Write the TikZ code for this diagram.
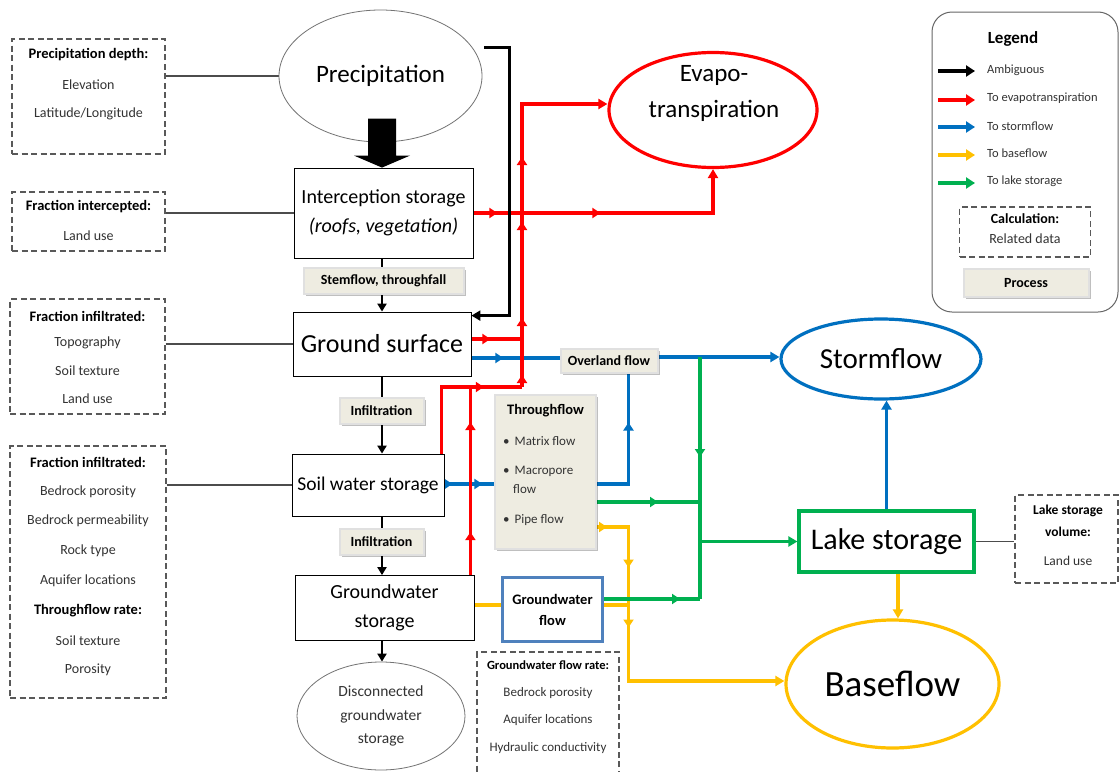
\documentclass[tikz,border=0pt]{standalone}
\usepackage{fontspec}
\setmainfont{Carlito}
\usetikzlibrary{arrows.meta,decorations.markings,shadows,calc,shapes.geometric}
\definecolor{cred}{HTML}{FF0000}
\definecolor{cblue}{HTML}{0070C0}
\definecolor{cyel}{HTML}{FFC000}
\definecolor{cgreen}{HTML}{00B050}
\definecolor{beige}{HTML}{EEECE1}
\definecolor{gwblue}{HTML}{4F81BD}
\definecolor{dgray}{HTML}{595959}
\newcommand\fsz[2]{\fontsize{#1}{#2}\selectfont}
\pgfdeclarelayer{bg}
\pgfsetlayers{bg,main}
\tikzset{
 mainbox/.style={draw=black, line width=0.8pt, fill=white, inner sep=0pt, align=center},
 databox/.style={draw=dgray, line width=1.2pt, dash pattern=on 6pt off 3.5pt, inner sep=0pt},
 dtitle/.style={font=\bfseries\fsz{14.5}{17}, inner sep=0pt},
 dtext/.style={font=\fsz{14}{17}, text=black!80, inner sep=0pt},
 procbox/.style={fill=beige, draw=black!12, line width=2pt, inner sep=0pt, drop shadow={shadow xshift=2pt, shadow yshift=-2pt, opacity=0.25, fill=black}},
 proc/.style={procbox, font=\bfseries\fsz{14}{17}},
 ell/.style={ellipse, draw=black!55, line width=0.8pt, fill=white, inner sep=0pt, align=center},
 conn/.style={draw=black!70, line width=1.1pt},
 flow/.style={line width=3.2pt},
 redflow/.style={flow, draw=cred},
 blueflow/.style={flow, draw=cblue},
 yelflow/.style={flow, draw=cyel},
 greenflow/.style={flow, draw=cgreen},
 tip/.style={-{Triangle[width=10pt,length=9pt]}},
 blk/.style={line width=2.6pt, draw=black, -{Triangle[width=9pt,length=8pt]}},
 am/.style={postaction={decorate, decoration={markings, mark=at position #1 with {\arrow{Triangle[width=10pt,length=8pt]}}}}},
}
\begin{document}
\begin{tikzpicture}[x=1pt,y=-1pt]
\useasboundingbox (0,0) rectangle (1119,771);
\begin{pgfonlayer}{bg}
\fill[white] (0,0) rectangle (1119,771);
\end{pgfonlayer}

% ---------- left data boxes ----------
\node[databox, minimum width=153pt, minimum height=115pt] (pd) at (88.5,96.5) {};
\node[dtitle] (pd1) at (88.5,55) {Precipitation depth:};
\node[dtext] (pd2) at (88.5,85) {Elevation};
\node[dtext] (pd3) at (88.5,114) {Latitude/Longitude};

\node[databox, minimum width=153pt, minimum height=59pt] (fi) at (88.5,221.5) {};
\node[dtitle] (fi1) at (88.5,207) {Fraction intercepted:};
\node[dtext] (fi2) at (88.5,236) {Land use};

\node[databox, minimum width=155pt, minimum height=115pt] (finf) at (87.5,356.5) {};
\node[dtitle] (finf1) at (87.5,316) {Fraction infiltrated:};
\node[dtext] (finf2) at (87.5,343) {Topography};
\node[dtext] (finf3) at (87.5,371) {Soil texture};
\node[dtext] (finf4) at (87.5,399) {Land use};

\node[databox, minimum width=156pt, minimum height=252pt] (fb) at (88,572) {};
\node[dtitle] (fb1) at (88,462) {Fraction infiltrated:};
\node[dtext] (fb2) at (88,492) {Bedrock porosity};
\node[dtext] (fb3) at (88,521) {Bedrock permeability};
\node[dtext] (fb4) at (88,551) {Rock type};
\node[dtext] (fb5) at (88,581) {Aquifer locations};
\node[dtitle] (fb6) at (88,611) {Throughflow rate:};
\node[dtext] (fb7) at (88,641) {Soil texture};
\node[dtext] (fb8) at (88,670) {Porosity};

% ---------- main column ----------
\coordinate (axis) at (382,0);
\node[ell, minimum width=203pt, minimum height=132pt, font=\fsz{25}{30}] (precip) at (380.5,76) {Precipitation};
\node[mainbox, minimum width=179pt, minimum height=90pt, font=\fsz{20}{29}] (interc) at (383.5,213) {Interception storage\\\textit{(roofs, vegetation)}};
\node[proc, minimum width=160pt, minimum height=26pt] (stem) at (383.5,281) {Stemflow, throughfall};
\node[mainbox, minimum width=178pt, minimum height=64pt, font=\fsz{26}{30}] (ground) at (382,344) {Ground surface};
\node[proc, minimum width=84pt, minimum height=26pt] (inf1) at (381.5,410.5) {Infiltration};
\node[mainbox, minimum width=152pt, minimum height=62pt, font=\fsz{19.5}{24}] (soil) at (368,485) {Soil water storage};
\node[proc, minimum width=84pt, minimum height=26pt] (inf2) at (381.5,541.5) {Infiltration};
\node[mainbox, minimum width=179pt, minimum height=65pt, font=\fsz{20}{29}] (gws) at (384.5,608) {Groundwater\\storage};
\node[ell, minimum width=168pt, minimum height=108pt, font=\fsz{15.5}{23.5}, text=black!80] (disc) at (381,716) {Disconnected\\groundwater\\storage};

% big precipitation arrow
\coordinate (pa) at (interc.north -| axis);
\fill[black] (pa) -- ++(-28,-12) -- ++(14,0) -- ++(0,-37) -- ++(28,0) -- ++(0,37) -- ++(14,0) -- cycle;

% ---------- evapotranspiration ----------
\node[ell, draw=cred, line width=3.2pt, minimum width=208pt, minimum height=115pt] (evapo) at (713,110) {};
\node[font=\fsz{25}{36}, align=center, inner sep=0pt] (evapotxt) at (714,93) {Evapo-\\transpiration};

% ---------- throughflow etc ----------
\node[procbox, minimum width=101pt, minimum height=154pt] (thr) at (545.5,472) {};
\node[font=\bfseries\fsz{14.5}{17}, inner sep=0pt] (thrT) at (545.5,411) {Throughflow};
\node[anchor=west, font=\fsz{13}{15}, text=black!80, inner sep=0pt] (tb1) at (503,441) {\textbullet\hspace{5pt}Matrix flow};
\node[anchor=west, font=\fsz{13}{15}, text=black!80, inner sep=0pt] (tb2) at (503,471) {\textbullet\hspace{5pt}Macropore};
\node[anchor=west, font=\fsz{13}{15}, text=black!80, inner sep=0pt] (tb3) at (513,489) {flow};
\node[anchor=west, font=\fsz{13}{15}, text=black!80, inner sep=0pt] (tb4) at (503,520) {\textbullet\hspace{5pt}Pipe flow};

\node[proc, minimum width=97pt, minimum height=24pt] (over) at (609,360.5) {Overland flow};
\node[draw=gwblue, line width=3pt, fill=white, minimum width=100pt, minimum height=64pt, inner sep=0pt, font=\bfseries\fsz{14.5}{21}, align=center] (gwf) at (552.5,609.5) {Groundwater\\flow};

\node[databox, minimum width=142pt, minimum height=125pt] (gfr) at (548,714.5) {};
\node[font=\bfseries\fsz{12.5}{15}, inner sep=0pt] (gfr1) at (548,665) {Groundwater flow rate:};
\node[font=\fsz{13}{15}, text=black!80, inner sep=0pt] (gfr2) at (548,693) {Bedrock porosity};
\node[font=\fsz{13}{15}, text=black!80, inner sep=0pt] (gfr3) at (548,720) {Aquifer locations};
\node[font=\fsz{13}{15}, text=black!80, inner sep=0pt] (gfr4) at (548,748) {Hydraulic conductivity};

% ---------- right side ----------
\node[ell, draw=cblue, line width=3.2pt, minimum width=200pt, minimum height=80pt, font=\fsz{29}{32}] (storm) at (881,359) {Stormflow};
\node[mainbox, draw=cgreen, line width=3.2pt, minimum width=175pt, minimum height=61pt, font=\fsz{30}{32}] (lake) at (886.5,541.5) {Lake storage};
\node[ell, draw=cyel, line width=3.2pt, minimum width=213pt, minimum height=128pt, font=\fsz{37}{40}] (base) at (892.5,684) {Baseflow};

\node[databox, minimum width=103pt, minimum height=88pt] (lsv) at (1066.5,539) {};
\node[font=\bfseries\fsz{13.5}{16}, inner sep=0pt] (lsv1) at (1068,511) {Lake storage};
\node[font=\bfseries\fsz{13.5}{16}, inner sep=0pt] (lsv2) at (1068,532) {volume:};
\node[font=\fsz{13.5}{16}, text=black!80, inner sep=0pt] (lsv3) at (1068,561) {Land use};

% ---------- legend ----------
\node[draw=black!60, line width=1pt, rounded corners=20pt, minimum width=186pt, minimum height=300pt, inner sep=0pt] (legend) at (1025,162) {};
\node[font=\bfseries\fsz{17}{20}, inner sep=0pt] (legT) at (1013,39) {Legend};
\node[anchor=west, font=\fsz{12.5}{15}, text=black!80, inner sep=0pt] (l1) at (987,70) {Ambiguous};
\node[anchor=west, font=\fsz{12.5}{15}, text=black!80, inner sep=0pt] (l2) at (987,98) {To evapotranspiration};
\node[anchor=west, font=\fsz{12.5}{15}, text=black!80, inner sep=0pt] (l3) at (987,126) {To stormflow};
\node[anchor=west, font=\fsz{12.5}{15}, text=black!80, inner sep=0pt] (l4) at (987,153) {To baseflow};
\node[anchor=west, font=\fsz{12.5}{15}, text=black!80, inner sep=0pt] (l5) at (987,181) {To lake storage};
\draw[line width=3.2pt, black, -{Triangle[width=11pt,length=9pt]}] ($(l1.west)+(-49,1)$) -- ($(l1.west)+(-12,1)$);
\draw[line width=3.2pt, cred, -{Triangle[width=11pt,length=9pt]}] ($(l2.west)+(-49,2)$) -- ($(l2.west)+(-12,2)$);
\draw[line width=3.2pt, cblue, -{Triangle[width=11pt,length=9pt]}] ($(l3.west)+(-49,1)$) -- ($(l3.west)+(-12,1)$);
\draw[line width=3.2pt, cyel, -{Triangle[width=11pt,length=9pt]}] ($(l4.west)+(-49,2)$) -- ($(l4.west)+(-12,2)$);
\draw[line width=3.2pt, cgreen, -{Triangle[width=11pt,length=9pt]}] ($(l5.west)+(-49,2)$) -- ($(l5.west)+(-12,2)$);
\node[databox, minimum width=131pt, minimum height=50pt] (calc) at (1025,232) {};
\node[font=\bfseries\fsz{14}{17}, inner sep=0pt] (calcT) at (1025,219) {Calculation:};
\node[font=\fsz{14}{17}, text=black!80, inner sep=0pt] (calcR) at (1025,239) {Related data};
\node[proc, minimum width=125pt, minimum height=28pt] (procl) at (1026,283) {Process};

% ---------- connectors ----------
\begin{pgfonlayer}{bg}
% data links
\draw[conn] (pd.east |- precip.west) -- (precip.west);
\draw[conn] (fi.east |- interc.west) -- (interc.west);
\draw[conn] (finf.east |- ground.west) -- (ground.west);
\draw[conn] (fb.east |- soil.west) -- (soil.west);
\draw[conn] (lake.east) -- (lake.east -| lsv.west);

% vertical black column arrows
\draw[blk] (interc.south -| axis) -- (ground.north -| axis);
\draw[blk] (ground.south -| axis) -- (soil.north -| axis);
\draw[blk] (soil.south -| axis) -- (gws.north -| axis);
\draw[blk] (gws.south -| axis) -- (disc.north -| axis);

% yellow
\coordinate (yx) at (628.5,0);
\coordinate (b3s) at ($(soil.east)+(0,-1)$);
\coordinate (yb) at ($(base.west)+(0,-3)$);
\draw[yelflow, tip, am=10pt, am=72pt, am=132pt] ($(b3s -| thr.east)+(0,43)$) coordinate (y1s) -| (yx |- yb) -- (yb);
\draw[yelflow] ($(gwf.east)+(0,-4.5)$) coordinate (y2s) -- (y2s -| yx);
\draw[yelflow] (y2s -| gws.east) -- (y2s -| gwf.west);
\draw[yelflow, tip] ($(lake.south)+(11.5,0)$) coordinate (y3s) -- (y3s |- base.north);

% blue
\draw[blueflow, am=32pt] ($(ground.east)+(0,14)$) coordinate (b1s) -- (b1s -| over.west);
\draw[blueflow, tip] ($(over.east)+(0,-3.5)$) coordinate (b2s) -- (b2s -| storm.west);
\draw[blueflow, am=8pt, am=38pt] (b3s) -- (b3s -| thr.west);
\draw[blueflow, am=93pt] (b3s -| thr.east) -| (over.south -| yx);
\draw[blueflow, tip] (lake.north) -- (lake.north |- storm.south);

% red
\coordinate (rj) at (522,387);
\draw[redflow, tip, am=24pt, am=127pt] (interc.east) -| (evapo.south);
\draw[redflow, tip, am=12pt, am=69pt, am=165pt, am=230pt] (rj) |- ($(evapo.west)+(0,-6)$);
\draw[redflow, am=19pt] ($(ground.east)+(0,-5)$) coordinate (r3s) -- (r3s -| rj);
\draw[redflow, am=109pt] ($(soil.north east)+(-3,0)$) |- (rj);
\draw[redflow, am=43pt, am=153pt] ($(gws.north east)+(-4,0)$) coordinate (r5s) -- (r5s |- rj);

% black ambiguous
\draw[line width=3pt, black, tip] ($(precip.east)+(2,-29)$) -| ($(ground.north east)+(38,4)$) -- ($(ground.north east)+(0,4)$);

% green
\coordinate (gx) at (700,0);
\draw[greenflow, am=76pt] ($(gwf.east)+(0,-10.5)$) coordinate (g3s) -- (g3s -| gx);
\draw[greenflow, am=100pt] (b2s -| gx) -- (g3s -| gx);
\draw[greenflow, am=61pt] ($(b3s -| thr.east)+(0,18)$) coordinate (g1s) -- (g1s -| gx);
\draw[greenflow, tip] (lake.west -| gx) -- (lake.west);
\end{pgfonlayer}
\end{tikzpicture}
\end{document}
